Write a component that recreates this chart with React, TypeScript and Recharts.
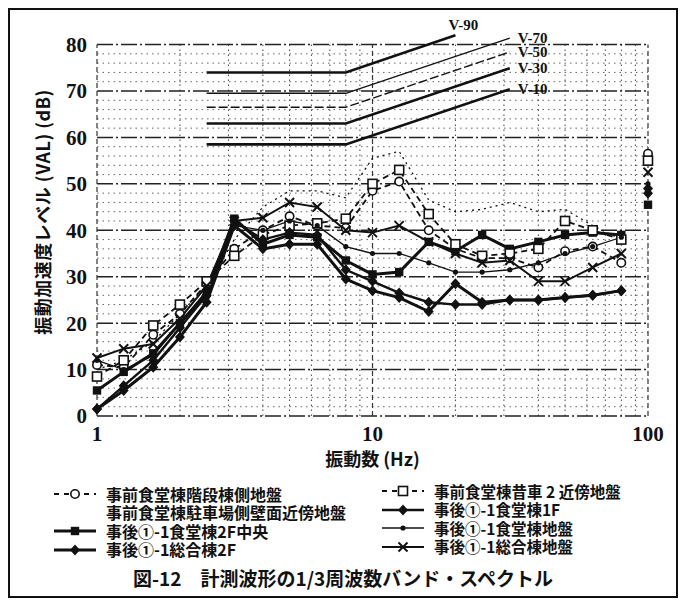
import React from "react";
import { ComposedChart, Line, XAxis, YAxis, ReferenceLine } from "recharts";

// 1/3 octave band centre frequencies (Hz)
const FREQS = [1, 1.25, 1.6, 2, 2.5, 3.15, 4, 5, 6.3, 8, 10, 12.5, 16, 20, 25, 31.5, 40, 50, 63, 80];
const OA_FREQ = 100; // overall values are plotted at the right edge

// band levels (dB)
const KAIDAN = [11, 10.5, 17.5, 22, 28.5, 36, 40, 43, 41, 40.5, 48.5, 50.5, 40, 36, 34, 34, 32, 35.5, 36.5, 33];
const CHUSHA = [10, 12, 16, 22, 28, 38, 45, 48.5, 48.5, 47, 55.5, 57, 46.5, 44, 44.5, 46, 44, 44.5, 41, 38];
const CENTER_2F = [5.5, 9.5, 13.5, 20, 26.5, 42.5, 37, 39, 38.5, 33.5, 30.5, 31, 37.5, 35.5, 39, 36, 37.5, 39, 39.5, 39];
const SOGO_2F = [1.5, 5.5, 10.5, 17, 24.5, 41, 36, 37, 37, 29.5, 27, 25.5, 22.5, 28.5, 24.5, 25, 25, 25.5, 26, 27];
const SHAKO = [8.5, 12, 19.5, 24, 29, 34.5, 39, 41, 41.5, 42.5, 50, 53, 43.5, 37, 34.5, 35, 36, 42, 40, 38];
const SHOKUDO_1F = [1.5, 6.5, 12, 19, 26, 42, 38, 39.5, 39, 31.5, 29, 26.5, 24.5, 24, 24, 25, 25, 25.5, 26, 27];
const SHOKUDO_GROUND = [12, 10, 13, 20, 27, 41, 40, 42, 41, 36.5, 35, 35, 33, 31, 31, 31.5, 33, 35, 36.5, 38.5];
const SOGO_GROUND = [12.5, 14.5, 15.5, 21, 28, 42, 42.7, 46, 45, 40, 39.5, 41, 37.5, 35, 33, 33.5, 29, 29, 32, 35];

// V-curves: flat part from 2.5 to 8 Hz, then rising
const V_NAMES = ["V-10", "V-30", "V-50", "V-70", "V-90"];
const V_FLAT = [58.5, 63, 66.5, 69.5, 74];
const V_END_FREQ = [31.5, 31.5, 31.5, 31.5, 20];
const V_END = [70.4, 74.9, 78.4, 81.4, 82];
const V_START_FREQ = 2.5;
const V_KNEE_FREQ = 8;

const X_TICKS = [1, 10, 100];
const X_MINOR = [2, 3, 4, 5, 6, 7, 8, 9, 20, 30, 40, 50, 60, 70, 80, 90];
const Y_TICKS = [0, 10, 20, 30, 40, 50, 60, 70, 80];
const Y_MINOR = [2, 4, 6, 8, 12, 14, 16, 18, 22, 24, 26, 28, 32, 34, 36, 38, 42, 44, 46, 48, 52, 54, 56, 58, 62, 64, 66, 68, 72, 74, 76, 78];
const Y_TOP = 80; // last grid line
const Y_ROOM = 84; // headroom so the V-90 curve can rise above the grid

type Kind = "circle" | "square" | "fillSquare" | "diamond" | "dot" | "cross" | "none";

interface Series {
  name: string;
  values: number[];
  overall: number | null;
  kind: Kind;
  width: number;
  dash?: string;
}

const SERIES: Series[] = [
  { name: "事前食堂棟階段棟側地盤", values: KAIDAN, overall: 56.5, kind: "circle", width: 1.8, dash: "6 4" },
  { name: "事前食堂棟駐車場側壁面近傍地盤", values: CHUSHA, overall: null, kind: "none", width: 1.3, dash: "2 4" },
  { name: "事後①-1食堂棟2F中央", values: CENTER_2F, overall: 45.5, kind: "fillSquare", width: 3 },
  { name: "事後①-1総合棟2F", values: SOGO_2F, overall: 48, kind: "diamond", width: 3 },
  { name: "事前食堂棟昔車 2 近傍地盤", values: SHAKO, overall: 55, kind: "square", width: 1.8, dash: "6 4" },
  { name: "事後①-1食堂棟1F", values: SHOKUDO_1F, overall: 49, kind: "diamond", width: 2.4 },
  { name: "事後①-1食堂棟地盤", values: SHOKUDO_GROUND, overall: 50, kind: "dot", width: 1.3 },
  { name: "事後①-1総合棟地盤", values: SOGO_GROUND, overall: 52.5, kind: "cross", width: 2 },
];

const INK = "#111";
const SERIF = "'Liberation Serif', 'DejaVu Serif', serif";
const JP = "'Noto Sans CJK JP', sans-serif";

function Marker({ kind, x, y }: { kind: Kind; x: number; y: number }) {
  switch (kind) {
    case "circle":
      return <circle cx={x} cy={y} r={4.2} fill="#fff" stroke={INK} strokeWidth={1.6} />;
    case "square":
      return <rect x={x - 4.5} y={y - 4.5} width={9} height={9} fill="#fff" stroke={INK} strokeWidth={1.6} />;
    case "fillSquare":
      return <rect x={x - 4.2} y={y - 4.2} width={8.4} height={8.4} fill={INK} />;
    case "diamond":
      return <path d={`M${x},${y - 5.5}L${x + 5},${y}L${x},${y + 5.5}L${x - 5},${y}Z`} fill={INK} />;
    case "dot":
      return <circle cx={x} cy={y} r={2.6} fill={INK} />;
    case "cross":
      return (
        <g stroke={INK} strokeWidth={2}>
          <line x1={x - 4.5} y1={y - 4.5} x2={x + 4.5} y2={y + 4.5} />
          <line x1={x - 4.5} y1={y + 4.5} x2={x + 4.5} y2={y - 4.5} />
        </g>
      );
    default:
      return null;
  }
}

const dotFor = (kind: Kind) => (p: any) => {
  if (kind === "none" || p.cx == null || p.cy == null) return <g key={`n-${p.index}`} />;
  return (
    <g key={`d-${p.index}`}>
      <Marker kind={kind} x={p.cx} y={p.cy} />
    </g>
  );
};

function LegendItem({ s }: { s: Series }) {
  return (
    <div style={{ display: "flex", alignItems: "center", height: 18.5 }}>
      <svg width={46} height={14} style={{ flex: "none" }}>
        {s.kind !== "none" && (
          <line x1={2} y1={7} x2={44} y2={7} stroke={INK} strokeWidth={s.width} strokeDasharray={s.dash ? "5 5" : undefined} />
        )}
        <Marker kind={s.kind} x={23} y={7} />
      </svg>
      <span
        style={{
          display: "block",
          marginLeft: 8,
          whiteSpace: "nowrap",
          lineHeight: "17px",
          height: 17,
        }}
      >
        {s.name}
      </span>
    </div>
  );
}

export default function App() {
  const left = SERIES.slice(0, 4);
  const right = SERIES.slice(4);

  return (
    <div
      style={{
        position: "relative",
        width: 670,
        height: 590,
        border: `2px solid ${INK}`,
        boxSizing: "border-box",
        background: "#fff",
        color: INK,
      }}
    >
      <div style={{ position: "absolute", left: 0, top: 0 }}>
        <ComposedChart width={660} height={462} margin={{ top: 16, right: 22, left: 0, bottom: 6 }}>
          <XAxis
            dataKey="f"
            type="number"
            scale="log"
            domain={[1, 100]}
            ticks={X_TICKS}
            axisLine={false}
            tickLine={false}
            tickSize={8}
            tickMargin={2}
            height={50}
            tick={{ fontSize: 21, fontWeight: 700, fontFamily: SERIF, fill: INK }}
            label={{
              value: "振動数 (Hz)",
              position: "insideBottom",
              offset: 0,
              style: { fontSize: 18, fontWeight: 700, fontFamily: JP, fill: INK },
            }}
          />
          <YAxis
            type="number"
            domain={[0, Y_ROOM]}
            ticks={Y_TICKS}
            axisLine={false}
            tickLine={false}
            width={87}
            tickMargin={4}
            tick={{ fontSize: 21, fontWeight: 700, fontFamily: SERIF, fill: INK }}
            label={{
              value: "振動加速度レベル (VAL) (dB)",
              angle: -90,
              position: "insideLeft",
              offset: 34,
              dy: -9,
              style: { textAnchor: "middle", fontSize: 18, letterSpacing: 0.5, fontWeight: 700, fontFamily: JP, fill: INK },
            }}
          />

          {Y_MINOR.map((v) => (
            <ReferenceLine key={`ym${v}`} y={v} stroke="#555" strokeWidth={0.9} strokeDasharray="1.5 4" />
          ))}
          {X_MINOR.map((v) => (
            <ReferenceLine
              key={`xm${v}`}
              segment={[{ x: v, y: 0 }, { x: v, y: Y_TOP }]}
              stroke="#444"
              strokeWidth={1}
              strokeDasharray="1.5 3.5"
            />
          ))}
          {Y_TICKS.map((v) => (
            <ReferenceLine key={`yM${v}`} y={v} stroke="#222" strokeWidth={1.5} strokeDasharray="16 3 2 3" />
          ))}
          {X_TICKS.map((v) => (
            <ReferenceLine
              key={`xM${v}`}
              segment={[{ x: v, y: 0 }, { x: v, y: Y_TOP }]}
              stroke="#333"
              strokeWidth={1.2}
              strokeDasharray="5 3"
            />
          ))}

          {V_NAMES.map((name, i) => {
            const data = [
              { f: V_START_FREQ, v: V_FLAT[i] },
              { f: V_KNEE_FREQ, v: V_FLAT[i] },
              { f: V_END_FREQ[i], v: V_END[i] },
            ];
            const thin = name === "V-50" || name === "V-70";
            const top = name === "V-90";
            return (
              <Line
                key={name}
                data={data}
                dataKey="v"
                type="linear"
                stroke={INK}
                strokeWidth={thin ? 1.4 : 2.6}
                strokeDasharray={name === "V-50" ? "9 3" : undefined}
                dot={false}
                isAnimationActive={false}
                label={(p: any) =>
                  p.index === data.length - 1 ? (
                    <text
                      key={`vl-${name}`}
                      x={top ? p.x - 7 : p.x + 8}
                      y={top ? p.y - 5 : p.y + 5}
                      fontSize={15}
                      fontWeight={700}
                      fontFamily={SERIF}
                      fill={INK}
                    >
                      {name}
                    </text>
                  ) : (
                    <g key={`vl-${name}-${p.index}`} />
                  )
                }
              />
            );
          })}

          {SERIES.map((s) => (
            <Line
              key={s.name}
              data={FREQS.map((f, i) => ({ f, v: s.values[i] }))}
              dataKey="v"
              type="linear"
              stroke={INK}
              strokeWidth={s.width}
              strokeDasharray={s.dash}
              dot={dotFor(s.kind)}
              isAnimationActive={false}
            />
          ))}
          {SERIES.filter((s) => s.overall != null).map((s) => (
            <Line
              key={`oa-${s.name}`}
              data={[{ f: OA_FREQ, v: s.overall }]}
              dataKey="v"
              stroke="none"
              dot={dotFor(s.kind)}
              isAnimationActive={false}
            />
          ))}
        </ComposedChart>
      </div>

      <div style={{ position: "absolute", left: 42, top: 475, fontFamily: JP, fontWeight: 700, fontSize: 16 }}>
        {left.map((s) => (
          <LegendItem key={s.name} s={s} />
        ))}
      </div>
      <div style={{ position: "absolute", left: 370, top: 472, fontFamily: JP, fontWeight: 700, fontSize: 15.5 }}>
        {right.map((s) => (
          <LegendItem key={s.name} s={s} />
        ))}
      </div>

      <div
        style={{
          position: "absolute",
          left: 0,
          width: 666,
          top: 554,
          textAlign: "center",
          fontFamily: JP,
          fontWeight: 700,
          fontSize: 19,
          whiteSpace: "pre",
        }}
      >
        {"図-12　計測波形の1/3周波数バンド・スペクトル"}
      </div>
    </div>
  );
}
